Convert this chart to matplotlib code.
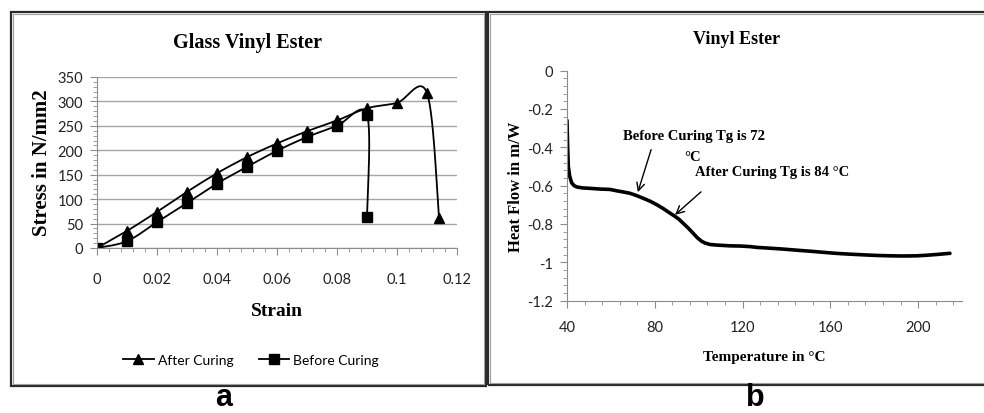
import numpy as np
import matplotlib
matplotlib.use("Agg")
import matplotlib.pyplot as plt
from matplotlib.patches import Rectangle
from matplotlib.ticker import MultipleLocator

# panel a: stress-strain data
strain_after = [0, 0.01, 0.02, 0.03, 0.04, 0.05, 0.06, 0.07, 0.08, 0.09, 0.10, 0.11, 0.114]
stress_after = [0, 35, 74, 115, 153, 186, 214, 239, 261, 286, 297, 317, 62]
strain_before = [0, 0.01, 0.02, 0.03, 0.04, 0.05, 0.06, 0.07, 0.08, 0.09, 0.09]
stress_before = [0, 14, 53, 92, 132, 166, 199, 227, 250, 273, 64]

# panel b: DSC curve
temp = [40.0, 40.3, 40.6, 41.2, 42.1, 43.2, 44.4, 47, 50, 55, 59.6, 62.6, 65.5, 68.7, 71.7,
        74.5, 77.8, 81, 83.9, 86.2, 88.5, 91, 93.0, 95.3, 97.6, 99.5, 101.2, 102.8, 105.2,
        108.2, 114.3, 118.9, 123.4, 126.5, 132, 138.6, 145, 150.8, 156, 161.3, 165, 170,
        175.1, 181, 187.2, 193, 199.4, 204, 208.5, 211.5, 214.5]
heat_flow = [-0.26, -0.40, -0.50, -0.55, -0.585, -0.600, -0.607, -0.612, -0.614, -0.618,
             -0.620, -0.627, -0.633, -0.640, -0.652, -0.665, -0.681, -0.700, -0.720, -0.738,
             -0.755, -0.775, -0.797, -0.822, -0.850, -0.873, -0.889, -0.899, -0.907, -0.910,
             -0.914, -0.915, -0.918, -0.922, -0.926, -0.931, -0.937, -0.942, -0.947, -0.952,
             -0.955, -0.958, -0.961, -0.964, -0.966, -0.967, -0.966, -0.963, -0.959, -0.956,
             -0.953]

W, H = 984, 414
BLACK = "#000000"
GREY = "#8c8c8c"
SERIF = "Liberation Serif"
TICKFONT = "Lato"


def fx(px):
    return px / W


def fy(py):
    return 1 - py / H


def smooth(xs, ys, n=30):
    # excel style smoothed line (catmull-rom through the points, in pixel-ish space)
    pts = np.column_stack([xs, ys]).astype(float)
    scale = np.array([1 / 0.12 * 360, 171 / 350])
    p = pts * scale
    p = np.vstack([p[0], p, p[-1]])
    out = []
    for i in range(1, len(p) - 2):
        p0, p1, p2, p3 = p[i - 1], p[i], p[i + 1], p[i + 2]
        c1 = p1 + (p2 - p0) / 6
        c2 = p2 - (p3 - p1) / 6
        t = np.linspace(0, 1, n)[:, None]
        seg = ((1 - t) ** 3) * p1 + 3 * ((1 - t) ** 2) * t * c1 + 3 * (1 - t) * t ** 2 * c2 + t ** 3 * p2
        out.append(seg)
    out = np.vstack(out) / scale
    return out[:, 0], out[:, 1]


fig = plt.figure(figsize=(W / 100, H / 100), dpi=100)

# panel frames
for x0, x1, y0, y1 in [(11, 486, 13, 387), (488, 990, 13, 386)]:
    fig.patches.append(Rectangle((fx(x0), fy(y1)), fx(x1) - fx(x0), fy(y0) - fy(y1),
                                 transform=fig.transFigure, fill=False,
                                 edgecolor="#2a2a2a", linewidth=1.6))
    fig.patches.append(Rectangle((fx(x0 + 2), fy(y1 - 2)), fx(x1 - x0 - 4), fy(y0 + 2) - fy(y1 - 2),
                                 transform=fig.transFigure, fill=False,
                                 edgecolor="#a0a0a0", linewidth=0.8))

# ---- panel a ----
ax1 = fig.add_axes([fx(97), fy(249), fx(457) - fx(97), fy(78) - fy(249)])
xs, ys = smooth(strain_after, stress_after)
ax1.plot(xs, ys, color=BLACK, lw=1.3)
ax1.plot(strain_after, stress_after, ls="none", marker="^", ms=7.5, color=BLACK)
xs, ys = smooth(strain_before, stress_before)
ax1.plot(xs, ys, color=BLACK, lw=1.3)
ax1.plot(strain_before, stress_before, ls="none", marker="s", ms=6.5, color=BLACK)

ax1.set_xlim(0, 0.12)
ax1.set_ylim(0, 350)
ax1.set_xticks(np.arange(0, 0.121, 0.02))
ax1.set_xticklabels(["0", "0.02", "0.04", "0.06", "0.08", "0.1", "0.12"])
ax1.set_yticks(np.arange(0, 351, 50))
ax1.xaxis.set_minor_locator(MultipleLocator(0.004))
ax1.yaxis.set_minor_locator(MultipleLocator(10))
ax1.grid(axis="y", color="#a6a6a6", lw=1.0)
ax1.set_axisbelow(True)
for s in ["top", "right"]:
    ax1.spines[s].set_visible(False)
for s in ["left", "bottom"]:
    ax1.spines[s].set_color(GREY)
ax1.tick_params(which="major", length=5, color=GREY, labelsize=10.5)
ax1.tick_params(which="minor", length=3, color=GREY)
ax1.tick_params(axis="x", which="major", pad=12)
ax1.tick_params(axis="y", which="major", pad=5)
for lab in ax1.get_xticklabels() + ax1.get_yticklabels():
    lab.set_fontfamily(TICKFONT)
    lab.set_color("#222222")

fig.text(fx(248), fy(43), "Glass Vinyl Ester", family=SERIF, weight="bold", size=14.5,
         ha="center", va="center")
fig.text(fx(42), fy(163), "Stress in N/mm2", family=SERIF, weight="bold", size=15,
         ha="center", va="center", rotation=90)
fig.text(fx(277), fy(312), "Strain", family=SERIF, weight="bold", size=14,
         ha="center", va="center")

h1, = ax1.plot([], [], color=BLACK, lw=1.3, marker="^", ms=7.5)
h2, = ax1.plot([], [], color=BLACK, lw=1.3, marker="s", ms=6.5)
leg = fig.legend([h1, h2], ["After Curing", "Before Curing"], loc="center",
                 bbox_to_anchor=(fx(251), fy(361)), ncol=2, frameon=False,
                 handlelength=2.2, handletextpad=0.3, columnspacing=1.8,
                 prop={"family": TICKFONT, "size": 10})

# ---- panel b ----
ax2 = fig.add_axes([fx(567), fy(301.7), fx(962) - fx(567), fy(71.5) - fy(301.7)])
ax2.plot(temp, heat_flow, color=BLACK, lw=2.6, solid_capstyle="round")
ax2.set_xlim(40, 220)
ax2.set_ylim(-1.2, 0)
ax2.set_xticks([40, 80, 120, 160, 200])
ax2.set_yticks([0, -0.2, -0.4, -0.6, -0.8, -1, -1.2])
ax2.set_yticklabels(["0", "-0.2", "-0.4", "-0.6", "-0.8", "-1", "-1.2"])
ax2.xaxis.set_minor_locator(MultipleLocator(8))
ax2.yaxis.set_minor_locator(MultipleLocator(0.04))
for s in ["top", "right"]:
    ax2.spines[s].set_visible(False)
for s in ["left", "bottom"]:
    ax2.spines[s].set_color(GREY)
ax2.tick_params(which="major", length=5, color=GREY, labelsize=10.5)
ax2.tick_params(which="minor", length=3, color=GREY)
ax2.tick_params(axis="x", which="major", pad=9)
ax2.tick_params(axis="y", which="major", pad=5)
for lab in ax2.get_xticklabels() + ax2.get_yticklabels():
    lab.set_fontfamily(TICKFONT)
    lab.set_color("#222222")

fig.text(fx(737), fy(40), "Vinyl Ester", family=SERIF, weight="bold", size=13,
         ha="center", va="center")
fig.text(fx(516), fy(187), "Heat Flow in m/W", family=SERIF, weight="bold", size=12,
         ha="center", va="center", rotation=90)
fig.text(fx(764), fy(358), "Temperature in \u00b0C", family=SERIF, weight="bold", size=11,
         ha="center", va="center")

ax2.annotate("", xy=(71.9, -0.648), xytext=(78.7, -0.399),
             arrowprops=dict(arrowstyle="->", color=BLACK, lw=1.0, mutation_scale=14))
ax2.annotate("", xy=(88.3, -0.762), xytext=(102, -0.623),
             arrowprops=dict(arrowstyle="->", color=BLACK, lw=1.0, mutation_scale=14))
ax2.text(65.5, -0.341, "Before Curing Tg is 72", family=SERIF, weight="bold", size=10.5,
         ha="left", va="center")
ax2.text(97, -0.446, "\u00b0C", family=SERIF, weight="bold", size=10.5,
         ha="center", va="center")
ax2.text(98.3, -0.529, "After Curing Tg is 84 \u00b0C", family=SERIF, weight="bold", size=10.5,
         ha="left", va="center")

# panel letters
fig.text(fx(224), fy(413.5), "a", family="Liberation Sans", weight="bold", size=22,
         ha="center", va="bottom")
fig.text(fx(755), fy(413.5), "b", family="Liberation Sans", weight="bold", size=22,
         ha="center", va="bottom")

fig.savefig("out.png", dpi=100)
